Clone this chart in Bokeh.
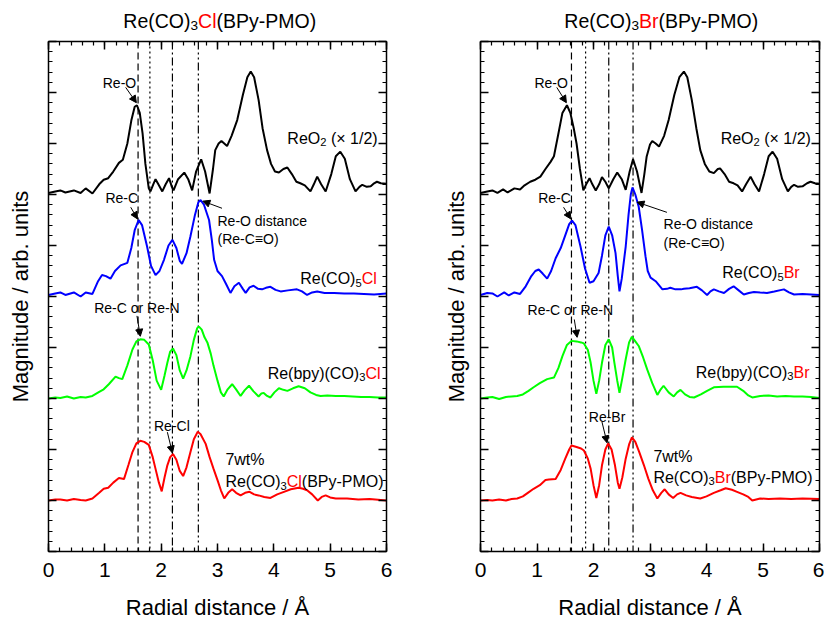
from bokeh.plotting import figure
from bokeh.models import (Range1d, LinearAxis, FixedTicker, Label, Arrow,
                          NormalHead, Span, CustomJSTickFormatter)
from bokeh.layouts import row, column
from bokeh.embed import file_html
from bokeh.resources import INLINE

FONT = "Liberation Sans"
RED = "#ff0000"

# ---------------- data (radial distance / Å, magnitude offset stacked) ----------------
x_ticks = [0, 1, 2, 3, 4, 5, 6]
x_minor = [i * 0.2 for i in range(31)]
y_ticks = [0, 1, 2, 3, 4, 5, 6, 7, 8, 9, 10]
y_minor = [i * 0.2 for i in range(51)]

# Left panel: Re(CO)3Cl(BPy-PMO)
cl_reo2_r = [0.00, 0.12, 0.21, 0.30, 0.45, 0.57, 0.66, 0.78, 0.90, 0.98, 1.06, 1.15, 1.25, 1.32, 1.40, 1.47, 1.53, 1.57, 1.62, 1.67, 1.72, 1.78, 1.81, 1.86, 1.90, 1.95, 2.02, 2.08, 2.14, 2.19, 2.22, 2.30, 2.41, 2.48, 2.55, 2.62, 2.71, 2.78, 2.86, 2.92, 2.96, 3.02, 3.07, 3.12, 3.17, 3.25, 3.35, 3.45, 3.53, 3.59, 3.65, 3.73, 3.80, 3.88, 3.95, 4.02, 4.09, 4.17, 4.24, 4.32, 4.40, 4.47, 4.55, 4.65, 4.71, 4.77, 4.84, 4.92, 5.02, 5.10, 5.18, 5.26, 5.35, 5.45, 5.52, 5.57, 5.65, 5.72, 5.78, 5.83, 5.90, 6.00]
cl_reo2_m = [7.03, 7.06, 7.08, 7.04, 7.08, 7.03, 7.12, 7.02, 7.20, 7.29, 7.32, 7.45, 7.62, 7.68, 8.00, 8.45, 8.72, 8.75, 8.60, 8.20, 7.60, 7.12, 7.06, 7.20, 7.30, 7.20, 7.06, 7.20, 7.32, 7.15, 7.08, 7.30, 7.43, 7.30, 7.08, 7.45, 7.69, 7.45, 7.02, 7.50, 7.87, 8.00, 8.05, 8.00, 7.95, 8.15, 8.46, 8.95, 9.30, 9.41, 9.30, 8.85, 8.30, 7.87, 7.60, 7.45, 7.43, 7.50, 7.53, 7.40, 7.25, 7.22, 7.18, 7.06, 7.20, 7.35, 7.20, 7.06, 7.40, 7.75, 7.84, 7.70, 7.30, 7.06, 7.15, 7.19, 7.15, 7.16, 7.22, 7.25, 7.22, 7.21]

cl_reco5_r = [0.00, 0.12, 0.21, 0.30, 0.45, 0.57, 0.66, 0.78, 0.88, 0.95, 1.02, 1.10, 1.18, 1.28, 1.40, 1.47, 1.53, 1.60, 1.66, 1.75, 1.82, 1.90, 1.97, 2.05, 2.13, 2.20, 2.27, 2.33, 2.37, 2.45, 2.52, 2.60, 2.66, 2.70, 2.76, 2.85, 2.90, 2.94, 3.00, 3.08, 3.15, 3.23, 3.30, 3.38, 3.45, 3.50, 3.57, 3.64, 3.72, 3.79, 3.86, 3.94, 4.03, 4.12, 4.25, 4.41, 4.50, 4.59, 4.68, 4.77, 4.90, 5.07, 5.25, 5.42, 5.60, 5.78, 6.00]
cl_reco5_m = [5.03, 5.06, 5.08, 5.03, 5.08, 5.00, 5.08, 5.05, 5.30, 5.42, 5.40, 5.35, 5.50, 5.61, 5.66, 5.95, 6.30, 6.50, 6.40, 5.98, 5.60, 5.42, 5.50, 5.72, 6.00, 6.11, 5.95, 5.70, 5.64, 5.85, 6.18, 6.60, 6.85, 6.89, 6.80, 6.50, 6.10, 5.72, 5.50, 5.40, 5.25, 5.07, 5.20, 5.27, 5.15, 5.07, 5.18, 5.21, 5.15, 5.14, 5.17, 5.19, 5.13, 5.10, 5.12, 5.14, 5.10, 5.03, 5.08, 5.10, 5.07, 5.07, 5.06, 5.06, 5.05, 5.04, 5.06]

cl_bpy_r = [0.00, 0.12, 0.21, 0.33, 0.45, 0.57, 0.66, 0.78, 0.90, 0.98, 1.07, 1.19, 1.25, 1.31, 1.40, 1.49, 1.56, 1.63, 1.70, 1.78, 1.85, 1.92, 2.00, 2.06, 2.11, 2.16, 2.21, 2.27, 2.33, 2.39, 2.45, 2.52, 2.58, 2.64, 2.67, 2.72, 2.77, 2.82, 2.88, 2.93, 3.00, 3.06, 3.11, 3.18, 3.26, 3.33, 3.41, 3.48, 3.56, 3.64, 3.73, 3.78, 3.82, 3.88, 3.94, 4.01, 4.09, 4.17, 4.24, 4.34, 4.44, 4.55, 4.65, 4.75, 4.83, 4.95, 5.10, 5.25, 5.40, 5.55, 5.70, 5.85, 6.00]
cl_bpy_m = [3.00, 3.02, 3.01, 3.04, 3.00, 3.03, 3.02, 3.05, 3.13, 3.18, 3.28, 3.43, 3.40, 3.38, 3.65, 3.96, 4.12, 4.16, 4.15, 4.06, 3.75, 3.35, 3.17, 3.45, 3.70, 3.92, 3.98, 3.85, 3.55, 3.39, 3.55, 3.83, 4.15, 4.38, 4.41, 4.35, 4.20, 4.10, 3.88, 3.64, 3.35, 3.12, 3.04, 3.18, 3.28, 3.18, 3.05, 3.16, 3.25, 3.14, 3.04, 3.10, 3.11, 3.05, 3.02, 3.12, 3.20, 3.17, 3.15, 3.20, 3.24, 3.20, 3.12, 3.07, 3.05, 3.06, 3.05, 3.05, 3.04, 3.03, 3.03, 3.02, 3.02]

cl_pmo_r = [0.00, 0.12, 0.21, 0.33, 0.45, 0.57, 0.66, 0.78, 0.90, 0.98, 1.06, 1.15, 1.25, 1.34, 1.42, 1.49, 1.56, 1.63, 1.70, 1.78, 1.85, 1.90, 1.96, 2.01, 2.06, 2.11, 2.16, 2.21, 2.27, 2.33, 2.39, 2.45, 2.52, 2.58, 2.65, 2.70, 2.79, 2.86, 2.93, 3.00, 3.06, 3.12, 3.19, 3.26, 3.33, 3.41, 3.49, 3.57, 3.65, 3.73, 3.83, 3.94, 4.06, 4.18, 4.30, 4.44, 4.52, 4.59, 4.68, 4.78, 4.85, 4.92, 5.00, 5.10, 5.30, 5.50, 5.70, 6.00]
cl_pmo_m = [1.00, 1.02, 1.02, 1.00, 1.03, 1.01, 1.00, 1.04, 1.15, 1.23, 1.25, 1.35, 1.44, 1.42, 1.70, 1.95, 2.12, 2.17, 2.15, 2.09, 1.85, 1.62, 1.35, 1.18, 1.45, 1.69, 1.85, 1.91, 1.80, 1.58, 1.48, 1.65, 1.95, 2.20, 2.35, 2.30, 2.11, 1.85, 1.62, 1.40, 1.20, 1.04, 1.15, 1.22, 1.15, 1.10, 1.15, 1.17, 1.12, 1.10, 1.07, 1.05, 1.12, 1.17, 1.22, 1.25, 1.23, 1.20, 1.12, 1.00, 1.07, 1.10, 1.06, 1.04, 1.04, 1.02, 1.03, 1.00]

cl_lines = [1.59, 1.80, 2.20, 2.66]

# Right panel: Re(CO)3Br(BPy-PMO)
br_reo2_r = [0.00, 0.12, 0.21, 0.30, 0.40, 0.48, 0.60, 0.70, 0.78, 0.88, 0.97, 1.06, 1.15, 1.24, 1.30, 1.38, 1.45, 1.53, 1.59, 1.65, 1.70, 1.76, 1.82, 1.87, 1.93, 1.98, 2.04, 2.10, 2.15, 2.21, 2.27, 2.35, 2.42, 2.50, 2.57, 2.64, 2.70, 2.77, 2.85, 2.90, 2.94, 3.00, 3.04, 3.10, 3.16, 3.25, 3.33, 3.43, 3.52, 3.60, 3.66, 3.74, 3.82, 3.89, 3.97, 4.05, 4.13, 4.20, 4.24, 4.32, 4.40, 4.48, 4.55, 4.63, 4.70, 4.78, 4.85, 4.93, 5.02, 5.10, 5.17, 5.25, 5.34, 5.44, 5.50, 5.55, 5.62, 5.70, 5.78, 5.84, 5.92, 6.00]
br_reo2_m = [7.03, 7.06, 7.08, 7.03, 7.10, 7.04, 7.12, 7.10, 7.18, 7.25, 7.29, 7.35, 7.50, 7.64, 7.75, 8.20, 8.60, 8.75, 8.60, 8.30, 8.00, 7.50, 7.08, 7.20, 7.32, 7.20, 7.08, 7.20, 7.34, 7.25, 7.12, 7.30, 7.43, 7.30, 7.09, 7.45, 7.69, 7.45, 7.03, 7.40, 7.74, 7.98, 8.05, 8.00, 7.94, 8.15, 8.46, 8.95, 9.30, 9.41, 9.30, 8.85, 8.30, 7.87, 7.60, 7.45, 7.42, 7.50, 7.51, 7.40, 7.25, 7.22, 7.18, 7.06, 7.20, 7.35, 7.20, 7.06, 7.40, 7.75, 7.84, 7.70, 7.30, 7.06, 7.15, 7.19, 7.15, 7.16, 7.22, 7.25, 7.22, 7.21]

br_reco5_r = [0.00, 0.12, 0.21, 0.30, 0.42, 0.50, 0.60, 0.70, 0.80, 0.90, 0.97, 1.03, 1.10, 1.18, 1.25, 1.33, 1.42, 1.50, 1.57, 1.62, 1.68, 1.77, 1.85, 1.93, 2.00, 2.09, 2.15, 2.21, 2.27, 2.33, 2.39, 2.43, 2.46, 2.50, 2.57, 2.62, 2.66, 2.69, 2.74, 2.80, 2.86, 2.92, 2.96, 3.01, 3.10, 3.22, 3.30, 3.36, 3.45, 3.55, 3.60, 3.70, 3.83, 3.92, 4.01, 4.07, 4.13, 4.22, 4.31, 4.40, 4.48, 4.57, 4.66, 4.75, 4.84, 4.95, 5.07, 5.20, 5.37, 5.46, 5.55, 5.70, 5.85, 6.00]
br_reco5_m = [5.03, 5.07, 5.06, 5.00, 5.08, 5.02, 5.08, 5.05, 5.20, 5.40, 5.50, 5.53, 5.45, 5.35, 5.50, 5.75, 5.95, 6.20, 6.42, 6.49, 6.40, 5.98, 5.55, 5.27, 5.30, 5.46, 5.80, 6.20, 6.37, 6.20, 5.85, 5.40, 5.10, 5.35, 5.98, 6.60, 7.00, 7.14, 7.00, 6.76, 6.30, 5.79, 5.50, 5.37, 5.30, 5.14, 5.15, 5.17, 5.14, 5.14, 5.15, 5.16, 5.19, 5.12, 5.03, 5.10, 5.14, 5.10, 5.07, 5.15, 5.20, 5.12, 5.04, 5.07, 5.09, 5.08, 5.07, 5.10, 5.14, 5.08, 5.04, 5.05, 5.04, 5.03]

br_bpy_r = [0.00, 0.12, 0.21, 0.33, 0.45, 0.55, 0.65, 0.75, 0.85, 0.94, 1.05, 1.18, 1.30, 1.38, 1.45, 1.53, 1.61, 1.70, 1.78, 1.83, 1.90, 1.95, 2.00, 2.05, 2.10, 2.15, 2.21, 2.27, 2.33, 2.37, 2.42, 2.46, 2.51, 2.57, 2.63, 2.68, 2.74, 2.80, 2.88, 2.95, 3.04, 3.13, 3.19, 3.24, 3.33, 3.42, 3.48, 3.54, 3.62, 3.70, 3.78, 3.90, 4.01, 4.13, 4.30, 4.45, 4.54, 4.65, 4.74, 4.81, 4.95, 5.10, 5.25, 5.40, 5.55, 5.70, 5.85, 6.00]
br_bpy_m = [3.00, 3.02, 3.03, 2.99, 3.03, 3.04, 3.05, 3.08, 3.15, 3.22, 3.30, 3.38, 3.41, 3.60, 3.83, 4.05, 4.13, 4.12, 4.10, 4.08, 3.95, 3.70, 3.35, 3.09, 3.35, 3.70, 4.05, 4.16, 4.00, 3.70, 3.35, 3.11, 3.40, 3.77, 4.10, 4.21, 4.12, 4.03, 3.80, 3.57, 3.30, 3.07, 3.18, 3.25, 3.12, 3.04, 3.12, 3.17, 3.08, 3.03, 3.02, 3.08, 3.15, 3.22, 3.23, 3.23, 3.23, 3.15, 3.06, 3.02, 3.05, 3.06, 3.04, 3.05, 3.04, 3.04, 3.03, 3.01]

br_pmo_r = [0.00, 0.12, 0.21, 0.33, 0.45, 0.55, 0.65, 0.75, 0.85, 0.94, 1.05, 1.15, 1.21, 1.33, 1.42, 1.50, 1.57, 1.61, 1.70, 1.78, 1.83, 1.90, 1.95, 2.00, 2.05, 2.10, 2.15, 2.21, 2.26, 2.32, 2.38, 2.43, 2.46, 2.51, 2.57, 2.63, 2.68, 2.74, 2.81, 2.89, 2.97, 3.05, 3.13, 3.20, 3.26, 3.33, 3.41, 3.48, 3.54, 3.64, 3.74, 3.89, 4.00, 4.13, 4.25, 4.34, 4.45, 4.54, 4.65, 4.74, 4.81, 4.95, 5.10, 5.30, 5.50, 5.70, 6.00]
br_pmo_m = [1.00, 1.01, 1.00, 1.02, 1.00, 1.03, 1.04, 1.08, 1.16, 1.23, 1.30, 1.40, 1.41, 1.42, 1.60, 1.82, 2.00, 2.08, 2.05, 2.02, 1.98, 1.82, 1.62, 1.30, 1.05, 1.30, 1.69, 2.00, 2.12, 2.00, 1.69, 1.35, 1.23, 1.45, 1.82, 2.10, 2.24, 2.15, 1.95, 1.70, 1.43, 1.20, 1.04, 1.15, 1.22, 1.12, 1.05, 1.12, 1.15, 1.10, 1.07, 1.04, 1.08, 1.15, 1.20, 1.24, 1.21, 1.17, 1.12, 1.07, 1.00, 1.04, 1.03, 1.04, 1.03, 1.04, 1.03]

br_lines = [1.61, 1.86, 2.27, 2.70]

# ---------------- text helpers ----------------
CW = {' ': 278, '%': 889, '(': 333, ')': 333, '-': 333, '.': 278, '/': 278,
      'A': 667, 'B': 667, 'C': 722, 'M': 833, 'N': 722, 'O': 778, 'P': 667, 'R': 722,
      'a': 556, 'b': 556, 'c': 500, 'd': 556, 'e': 556, 'i': 222, 'l': 222, 'n': 556,
      'o': 556, 'p': 556, 'r': 333, 's': 500, 't': 278, 'w': 722, 'y': 500,
      '\u00d7': 584, '\u2261': 584}


def tw(s, size):
    return sum(CW.get(c, 556) for c in s) * size / 1000.0


def rich(p, x, y, runs, size, align="left"):
    """runs: list of (text, color, is_subscript); y is the vertical centre of capitals."""
    sub_size = size * 0.7
    total = sum(tw(t, sub_size if s else size) for t, c, s in runs)
    off = {"left": 0.0, "center": -total / 2.0, "right": -total}[align]
    for t, c, s in runs:
        fs = sub_size if s else size
        lead = len(t) - len(t.lstrip(" "))
        off += tw(" " * lead, fs)
        t = t.lstrip(" ")
        yo = -0.358 * size + 0.28 * size - (0.25 * size if s else 0.0)
        p.add_layout(Label(x=x, y=y, x_offset=off, y_offset=yo, text=t, text_color=c,
                           text_font=FONT, text_font_size=f"{fs:.1f}px",
                           text_baseline="alphabetic", text_align="left"))
        off += tw(t, fs)


def arrow(p, x0, y0, x1, y1):
    p.add_layout(Arrow(end=NormalHead(size=7, fill_color="black", line_color="black", line_width=1),
                       x_start=x0, y_start=y0, x_end=x1, y_end=y1,
                       line_color="black", line_width=1))


def style_axis(ax, ticks, minor, labels):
    ax.ticker = FixedTicker(ticks=ticks, minor_ticks=minor)
    ax.major_tick_in = 8
    ax.major_tick_out = 0
    ax.minor_tick_in = 4
    ax.minor_tick_out = 0
    ax.axis_line_width = 1.5
    ax.axis_line_color = "black"
    ax.major_tick_line_width = 1.5
    ax.major_tick_line_color = "black"
    ax.minor_tick_line_width = 1.2
    ax.minor_tick_line_color = "black"
    if labels:
        ax.major_label_text_font = FONT
        ax.major_label_text_font_size = "21px"
        ax.major_label_text_color = "black"
        ax.major_label_standoff = 11
    else:
        ax.formatter = CustomJSTickFormatter(code="return ''")
        ax.major_label_standoff = 0
        ax.major_label_text_font_size = "1px"


TITLE_H = 40
MAIN_H = 582


def make_title(width, bl, br):
    t = figure(width=width, height=TITLE_H, x_range=Range1d(0, 6), y_range=Range1d(0, 1),
               output_backend="svg", toolbar_location=None,
               min_border_left=bl, min_border_right=br, min_border_top=0, min_border_bottom=0)
    t.axis.visible = False
    t.xgrid.visible = False
    t.ygrid.visible = False
    t.outline_line_color = None
    return t


def make_panel(width, bl, br, curves, lines, ylab_standoff):
    p = figure(width=width, height=MAIN_H, x_range=Range1d(0, 6), y_range=Range1d(0, 10),
               output_backend="svg", toolbar_location=None,
               min_border_left=bl, min_border_right=br, min_border_top=1, min_border_bottom=69)
    p.xgrid.visible = False
    p.ygrid.visible = False
    p.outline_line_color = None
    p.background_fill_color = "white"
    p.border_fill_color = "white"

    style_axis(p.xaxis[0], x_ticks, x_minor, True)
    p.xaxis[0].axis_label = "Radial distance / \u00c5"
    style_axis(p.yaxis[0], y_ticks, y_minor, False)
    p.yaxis[0].axis_label = "Magnitude / arb. units"
    for ax in (p.xaxis[0], p.yaxis[0]):
        ax.axis_label_text_font = FONT
        ax.axis_label_text_font_size = "22px"
        ax.axis_label_text_font_style = "normal"
        ax.axis_label_text_color = "black"
    p.xaxis[0].axis_label_standoff = 15
    p.yaxis[0].axis_label_standoff = ylab_standoff

    top = LinearAxis()
    style_axis(top, x_ticks, x_minor, False)
    p.add_layout(top, "above")
    right = LinearAxis()
    style_axis(right, y_ticks, y_minor, False)
    p.add_layout(right, "right")

    dashes = ["7 4", "2 3", "8 3 2 3", "8 3 2 3 2 3"]
    for loc, d in zip(lines, dashes):
        p.add_layout(Span(location=loc, dimension="height", line_color="black",
                          line_width=1.2, line_dash=d, level="underlay"))

    for xs, ys, col in curves:
        p.line(xs, ys, line_color=col, line_width=2)
    return p


TY = 1 - 19.0 / TITLE_H

# ---------------- left panel ----------------
t1 = make_title(408, 48, 22)
rich(t1, 3.04, TY, [("Re(CO)", "black", False), ("3", "black", True),
                    ("Cl", RED, False), ("(BPy-PMO)", "black", False)], 19.5, "center")

p1 = make_panel(408, 48, 22,
                [(cl_reo2_r, cl_reo2_m, "black"), (cl_reco5_r, cl_reco5_m, "#0000ff"),
                 (cl_bpy_r, cl_bpy_m, "#00ff00"), (cl_pmo_r, cl_pmo_m, RED)],
                cl_lines, 16)

rich(p1, 1.26, 9.20, [("Re-O", "black", False)], 14, "center")
arrow(p1, 1.37, 9.10, 1.56, 8.80)
rich(p1, 4.24, 8.13, [("ReO", "black", False), ("2", "black", True), (" (\u00d7 1/2)", "black", False)], 16)
rich(p1, 1.30, 6.95, [("Re-C", "black", False)], 14, "center")
arrow(p1, 1.46, 6.75, 1.58, 6.52)
rich(p1, 3.00, 6.50, [("Re-O distance", "black", False)], 14)
rich(p1, 3.00, 6.15, [("(Re-C\u2261O)", "black", False)], 14)
arrow(p1, 3.08, 6.73, 2.74, 6.87)
rich(p1, 4.47, 5.37, [("Re(CO)", "black", False), ("5", "black", True), ("Cl", RED, False)], 16)
rich(p1, 1.57, 4.79, [("Re-C or Re-N", "black", False)], 14, "center")
arrow(p1, 1.57, 4.62, 1.63, 4.22)
rich(p1, 3.89, 3.52, [("Re(bpy)(CO)", "black", False), ("3", "black", True), ("Cl", RED, False)], 16)
rich(p1, 2.19, 2.48, [("Re-Cl", "black", False)], 14, "center")
arrow(p1, 2.11, 2.34, 2.20, 1.93)
rich(p1, 3.14, 1.82, [("7wt%", "black", False)], 16)
rich(p1, 3.14, 1.39, [("Re(CO)", "black", False), ("3", "black", True),
                      ("Cl", RED, False), ("(BPy-PMO)", "black", False)], 16)

# ---------------- right panel ----------------
t2 = make_title(416, 72, 5)
rich(t2, 3.20, TY, [("Re(CO)", "black", False), ("3", "black", True),
                    ("Br", RED, False), ("(BPy-PMO)", "black", False)], 19.5, "center")

p2 = make_panel(416, 72, 5,
                [(br_reo2_r, br_reo2_m, "black"), (br_reco5_r, br_reco5_m, "#0000ff"),
                 (br_bpy_r, br_bpy_m, "#00ff00"), (br_pmo_r, br_pmo_m, RED)],
                br_lines, 12)

rich(p2, 1.25, 9.20, [("Re-O", "black", False)], 14, "center")
arrow(p2, 1.35, 9.10, 1.52, 8.80)
rich(p2, 4.25, 8.13, [("ReO", "black", False), ("2", "black", True), (" (\u00d7 1/2)", "black", False)], 16)
rich(p2, 1.31, 6.95, [("Re-C", "black", False)], 14, "center")
arrow(p2, 1.47, 6.75, 1.60, 6.52)
rich(p2, 3.24, 6.45, [("Re-O distance", "black", False)], 14)
rich(p2, 3.24, 6.07, [("(Re-C\u2261O)", "black", False)], 14)
arrow(p2, 3.30, 6.65, 2.77, 6.85)
rich(p2, 4.28, 5.49, [("Re(CO)", "black", False), ("5", "black", True), ("Br", RED, False)], 16)
rich(p2, 1.59, 4.75, [("Re-C or Re-N", "black", False)], 14, "center")
arrow(p2, 1.66, 4.55, 1.71, 4.20)
rich(p2, 3.81, 3.54, [("Re(bpy)(CO)", "black", False), ("3", "black", True), ("Br", RED, False)], 16)
rich(p2, 2.24, 2.66, [("Re-Br", "black", False)], 14, "center")
arrow(p2, 2.15, 2.54, 2.24, 2.13)
rich(p2, 3.06, 1.88, [("7wt%", "black", False)], 16)
rich(p2, 3.06, 1.48, [("Re(CO)", "black", False), ("3", "black", True),
                      ("Br", RED, False), ("(BPy-PMO)", "black", False)], 16)

layout = row(column(t1, p1), column(t2, p2))
open("out.html", "w").write(file_html(layout, INLINE))
